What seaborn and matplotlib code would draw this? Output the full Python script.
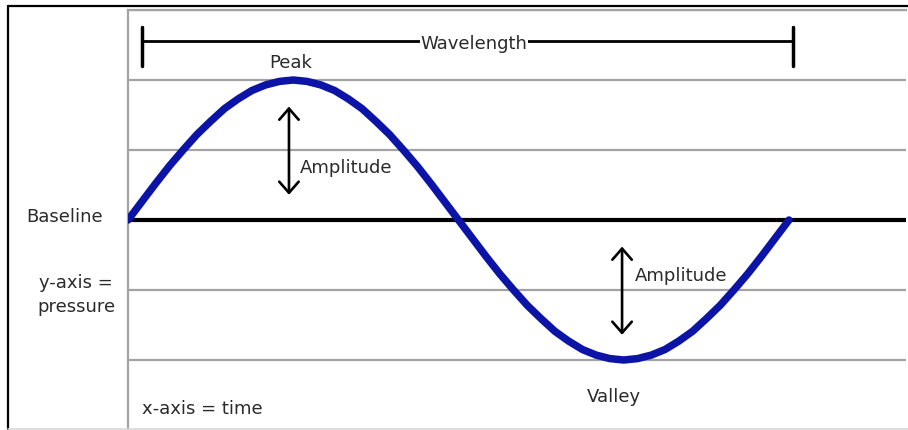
import matplotlib
matplotlib.use("Agg")
import matplotlib.pyplot as plt
import seaborn as sns
from matplotlib.lines import Line2D

# wave: time in 1/48ths of a wavelength, pressure in grid steps
time = list(range(49))
pressure = [0, 0.26, 0.52, 0.77, 1.0, 1.22, 1.41, 1.59, 1.73, 1.85, 1.93, 1.98,
            2.0, 1.98, 1.93, 1.85, 1.73, 1.59, 1.41, 1.22, 1.0, 0.77, 0.52, 0.26,
            0, -0.26, -0.52, -0.77, -1.0, -1.22, -1.41, -1.59, -1.73, -1.85, -1.93, -1.98,
            -2.0, -1.98, -1.93, -1.85, -1.73, -1.59, -1.41, -1.22, -1.0, -0.77, -0.52, -0.26,
            0]
grid_levels = [3, 2, 1, -1, -2]
baseline_level = 0

wave_color = "#0b14a6"
grid_color = "#a3a3a3"
text_color = "#2a2a2a"

sns.set_style("white")
plt.rcParams["font.family"] = ["DejaVu Sans"]

fig = plt.figure(figsize=(9.08, 4.31), dpi=100)
ax = fig.add_axes([128 / 908, 0, (906 - 128) / 908, 420 / 431])
ax.set_xlim(0, 56.5)
ax.set_ylim(-3, 3)

# background rules
for lvl in grid_levels:
    ax.axhline(lvl, color=grid_color, lw=1.6, zorder=1)
ax.axhline(baseline_level, color="black", lw=3, zorder=2)

sns.lineplot(x=time, y=pressure, ax=ax, color=wave_color, lw=5.4,
             solid_capstyle="round", solid_joinstyle="round", zorder=3)

# wavelength bar
ax.plot([1.02, 48.3], [2.56, 2.56], color="black", lw=2, zorder=2)
ax.plot([1.02, 1.02], [2.2, 2.76], color="black", lw=2.5, zorder=2)
ax.plot([48.3, 48.3], [2.2, 2.76], color="black", lw=2.5, zorder=2)
ax.text(25.13, 2.53, "Wavelength", ha="center", va="center", fontsize=13,
        color=text_color, zorder=4,
        bbox=dict(facecolor="white", edgecolor="none", pad=0.5))

# amplitude arrows
arrow = dict(arrowstyle="<->,head_length=0.8,head_width=0.7", color="black", lw=1.9,
             shrinkA=0, shrinkB=0)
ax.annotate("", xy=(11.69, 1.62), xytext=(11.69, 0.36), arrowprops=arrow)
ax.annotate("", xy=(35.88, -0.38), xytext=(35.88, -1.64), arrowprops=arrow)

txt = dict(fontsize=13, color=text_color)
ax.text(11.84, 2.26, "Peak", ha="center", va="center", **txt)
ax.text(12.49, 0.76, "Amplitude", ha="left", va="center", **txt)
ax.text(36.82, -0.79, "Amplitude", ha="left", va="center", **txt)
ax.text(35.3, -2.51, "Valley", ha="center", va="center", **txt)
ax.text(1.02, -2.69, "x-axis = time", ha="left", va="center", **txt)
ax.text(-1.82, 0.06, "Baseline", ha="right", va="center", clip_on=False, **txt)
ax.text(-3.78, -0.89, "y-axis =", ha="center", va="center", clip_on=False, **txt)
ax.text(-3.78, -1.23, "pressure", ha="center", va="center", clip_on=False, **txt)

ax.set_xticks([])
ax.set_yticks([])
for side in ["right", "bottom"]:
    ax.spines[side].set_visible(False)
for side in ["left", "top"]:
    ax.spines[side].set_color(grid_color)
    ax.spines[side].set_linewidth(1.6)

# outer frame
fig.add_artist(Line2D([8 / 908, 8 / 908], [0, 1 - 7 / 431], color="black", lw=1.6,
                      transform=fig.transFigure))
fig.add_artist(Line2D([8 / 908, 1], [1 - 7 / 431, 1 - 7 / 431], color="black", lw=1.6,
                      transform=fig.transFigure))
fig.add_artist(Line2D([8 / 908, 1], [1 / 431, 1 / 431], color="#d8d8d8", lw=1.2,
                      transform=fig.transFigure))

fig.savefig("out.png", dpi=100)
